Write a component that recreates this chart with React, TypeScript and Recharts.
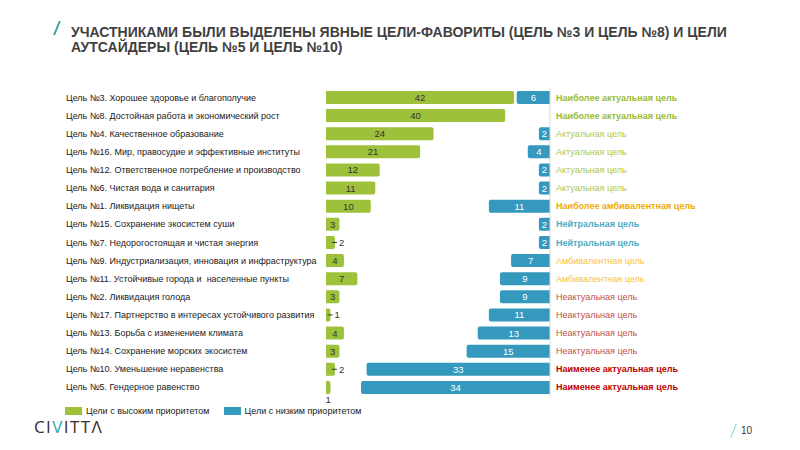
import { BarChart, Bar, XAxis, YAxis, LabelList } from 'recharts'

const GOALS = [
  'Цель №3. Хорошее здоровье и благополучие',
  'Цель №8. Достойная работа и экономический рост',
  'Цель №4. Качественное образование',
  'Цель №16. Мир, правосудие и эффективные институты',
  'Цель №12. Ответственное потребление и производство',
  'Цель №6. Чистая вода и санитария',
  'Цель №1. Ликвидация нищеты',
  'Цель №15. Сохранение экосистем суши',
  'Цель №7. Недорогостоящая и чистая энергия',
  'Цель №9. Индустриализация, инновация и инфраструктура',
  'Цель №11. Устойчивые города и  населенные пункты',
  'Цель №2. Ликвидация голода',
  'Цель №17. Партнерство в интересах устойчивого развития',
  'Цель №13. Борьба с изменением климата',
  'Цель №14. Сохранение морских экосистем',
  'Цель №10. Уменьшение неравенства',
  'Цель №5. Гендерное равенство',
]

const HIGH_PRIORITY = [42, 40, 24, 21, 12, 11, 10, 3, 2, 4, 7, 3, 1, 4, 3, 2, 1]
const LOW_PRIORITY = [6, 0, 2, 4, 2, 2, 11, 2, 2, 7, 9, 9, 11, 13, 15, 33, 34]

const STATUS = [
  'Наиболее актуальная цель',
  'Наиболее актуальная цель',
  'Актуальная цель',
  'Актуальная цель',
  'Актуальная цель',
  'Актуальная цель',
  'Наиболее амбивалентная цель',
  'Нейтральная цель',
  'Нейтральная цель',
  'Амбивалентная цель',
  'Амбивалентная цель',
  'Неактуальная цель',
  'Неактуальная цель',
  'Неактуальная цель',
  'Неактуальная цель',
  'Наименее актуальная цель',
  'Наименее актуальная цель',
]

const LEGEND = ['Цели с высоким приоритетом', 'Цели с низким приоритетом']

const GREEN = '#9dc13b'
const BLUE = '#3598bd'
const FONT = '"Liberation Sans", Arial, sans-serif'

const STATUS_STYLE: Record<string, { color: string; weight: number }> = {
  'Наиболее актуальная цель': { color: '#9bbb2f', weight: 700 },
  'Актуальная цель': { color: '#aac84f', weight: 400 },
  'Наиболее амбивалентная цель': { color: '#f0ab00', weight: 700 },
  'Нейтральная цель': { color: '#4bacc6', weight: 700 },
  'Амбивалентная цель': { color: '#f5c242', weight: 400 },
  'Неактуальная цель': { color: '#c0504d', weight: 400 },
  'Наименее актуальная цель': { color: '#c00000', weight: 700 },
}

const data = GOALS.map((name, i) => ({
  name,
  high: HIGH_PRIORITY[i],
  low: LOW_PRIORITY[i],
  status: STATUS[i],
}))

function LeftTick({ y, payload }: any) {
  return (
    <text x={66} y={y} dy={3.5} fontSize={9} fill="#1a1a1a" fontFamily={FONT} style={{ whiteSpace: 'pre' }}>
      {payload.value}
    </text>
  )
}

function RightTick({ x, y, index }: any) {
  const st = STATUS_STYLE[STATUS[index]]
  return (
    <text x={x} y={y} dy={3.5} fontSize={9} fill={st.color} fontWeight={st.weight} fontFamily={FONT}>
      {STATUS[index]}
    </text>
  )
}

function HighLabel({ x, y, width, height, value, index }: any) {
  const cy = y + height / 2
  if (value >= 3) {
    return (
      <text x={x + width / 2} y={cy} dy={3.5} textAnchor="middle" fontSize={9.5} fill="#333" fontFamily={FONT}>
        {value}
      </text>
    )
  }
  if (index === GOALS.length - 1) {
    return (
      <text x={x + width / 2} y={y + height + 9} textAnchor="middle" fontSize={9.5} fill="#333" fontFamily={FONT}>
        {value}
      </text>
    )
  }
  const ex = x + width
  return (
    <g>
      <line x1={ex - 3} x2={ex + 2} y1={cy} y2={cy} stroke="#333" strokeWidth={1} />
      <text x={ex + 4} y={cy} dy={3.5} fontSize={9.5} fill="#333" fontFamily={FONT}>
        {value}
      </text>
    </g>
  )
}

function LowLabel({ x, y, width, height, value }: any) {
  if (!value) return null
  return (
    <text x={x + width / 2} y={y + height / 2} dy={3.5} textAnchor="middle" fontSize={9.5} fill="#fff" fontFamily={FONT}>
      {value}
    </text>
  )
}

export default function App() {
  return (
    <div style={{ position: 'absolute', left: 0, top: 0, width: 800, height: 450, background: '#fff', fontFamily: FONT, overflow: 'hidden' }}>
      <div style={{ position: 'absolute', left: 56, top: 21, width: 2, height: 14, background: '#2aa6a6', transform: 'skewX(-22deg)' }} />
      <div style={{ position: 'absolute', left: 71, top: 25, fontSize: 14, fontWeight: 700, color: '#3f3f3f', lineHeight: '15px', whiteSpace: 'nowrap' }}>
        <div>УЧАСТНИКАМИ БЫЛИ ВЫДЕЛЕНЫ ЯВНЫЕ ЦЕЛИ-ФАВОРИТЫ (ЦЕЛЬ №3 И ЦЕЛЬ №8) И ЦЕЛИ</div>
        <div>АУТСАЙДЕРЫ (ЦЕЛЬ №5 И ЦЕЛЬ №10)</div>
      </div>

      <div style={{ position: 'absolute', left: 0, top: 0 }}>
        <BarChart width={800} height={450} data={data} layout="vertical" margin={{ top: 88, right: 0, bottom: 54, left: 0 }}>
          <XAxis xAxisId="g" type="number" domain={[0, 50]} hide />
          <XAxis xAxisId="b" type="number" domain={[0, 40.3]} reversed hide />
          <YAxis yAxisId="left" type="category" dataKey="name" width={326} axisLine={false} tickLine={false} tick={<LeftTick />} interval={0} />
          <YAxis yAxisId="right" orientation="right" type="category" dataKey="name" width={250} axisLine={{ stroke: '#d9d9d9' }} tickLine={false} tickSize={0} tickMargin={6} tick={<RightTick />} interval={0} />
          <Bar dataKey="high" xAxisId="g" yAxisId="left" fill={GREEN} barSize={13} radius={[0, 2, 2, 0]} isAnimationActive={false}>
            <LabelList dataKey="high" content={<HighLabel />} />
          </Bar>
          <Bar dataKey="low" xAxisId="b" yAxisId="right" fill={BLUE} barSize={13} radius={[0, 2, 2, 0]} isAnimationActive={false}>
            <LabelList dataKey="low" content={<LowLabel />} />
          </Bar>
        </BarChart>
      </div>

      <div style={{ position: 'absolute', left: 65, top: 406, display: 'flex', alignItems: 'center', fontSize: 9, color: '#1a1a1a', whiteSpace: 'nowrap' }}>
        <span style={{ width: 17, height: 8, background: GREEN, marginRight: 4 }} />
        <span style={{ marginRight: 14 }}>{LEGEND[0]}</span>
        <span style={{ width: 17, height: 8, background: BLUE, marginRight: 4 }} />
        <span>{LEGEND[1]}</span>
      </div>

      <div style={{ position: 'absolute', left: 34, top: 415, fontSize: 17, letterSpacing: 1.4, color: '#3a2b2b', fontWeight: 400, fontFamily: '"Open Sans", sans-serif' }}>
        CI<span style={{ color: '#2aa6a6' }}>V</span>ITTΛ
      </div>
      <div style={{ position: 'absolute', left: 733, top: 424, width: 1, height: 14, background: '#7fcfd0', transform: 'skewX(-22deg)' }} />
      <div style={{ position: 'absolute', left: 741, top: 425, fontSize: 10, color: '#333' }}>10</div>
    </div>
  )
}
